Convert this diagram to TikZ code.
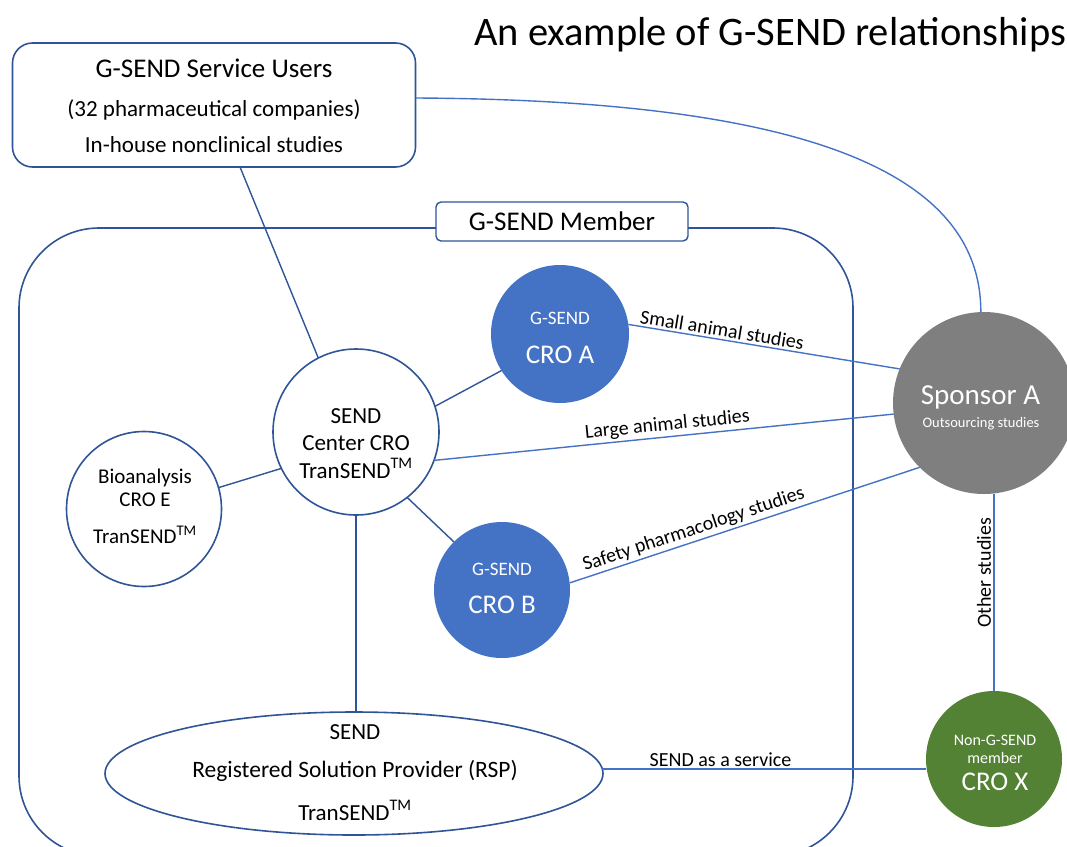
\documentclass[tikz,border=0pt]{standalone}
\usepackage{fontspec}
\setmainfont{Carlito}
\usetikzlibrary{shapes.geometric}
\definecolor{dblue}{HTML}{2F5597}
\definecolor{lblue}{HTML}{4472C4}
\definecolor{fblue}{HTML}{4472C4}
\definecolor{sgray}{HTML}{7F7F7F}
\definecolor{xgreen}{HTML}{548235}
\newcommand{\tmark}{\textsuperscript{TM}}
\begin{document}
\begin{tikzpicture}[x=1pt,y=-1pt,
  every node/.style={inner sep=0pt,outer sep=0pt},
  ln/.style={anchor=base,font=\fontsize{#1}{#1}\selectfont},
  wln/.style={ln=#1,text=white},
  outline/.style={draw=dblue,line width=1.6pt},
  ring/.style={circle,outline,fill=white,minimum size=#1},
  disc/.style={circle,minimum size=#1},
  dlink/.style={draw=dblue,line width=1.4pt},
  llink/.style={draw=lblue,line width=1.4pt},
  elabel/.style={font=\fontsize{20}{20}\selectfont,inner sep=3pt}]
\useasboundingbox (0,0) rectangle (1067,846);
\clip (0,0) rectangle (1067,846);

% title
\node[ln=40.5,anchor=base east] (title) at (1066,45) {An example of G-SEND relationships};

% container
\draw[outline,rounded corners=80] (19,228) rectangle (853,856);

% service users
\node[outline,rounded corners=20,fill=white,minimum width=403,minimum height=124] (su) at (214,105) {};
\node[ln=27] (su1) at (214,77) {G-SEND Service Users};
\node[ln=23] (su2) at (214,116) {(32 pharmaceutical companies)};
\node[ln=23] (su3) at (214,152) {In-house nonclinical studies};

% member label
\node[draw=dblue,line width=1.4pt,rounded corners=5,fill=white,minimum width=252,minimum height=39] (mem) at (562,221.5) {};
\node[ln=27] (memt) at (562,230) {G-SEND Member};

% center CRO
\node[ring=166] (cen) at (356,432) {};
\node[ln=23] (cen1) at (356,423) {SEND};
\node[ln=23] (cen2) at (356,450) {Center CRO};
\node[ln=23] (cen3) at (356,478) {TranSEND\tmark};

% bioanalysis
\node[ring=155] (bio) at (144,509) {};
\node[ln=21] (bio1) at (145,483) {Bioanalysis};
\node[ln=21] (bio2) at (145,506) {CRO E};
\node[ln=21] (bio3) at (145,543) {TranSEND\tmark};

% CRO A
\node[disc=138,fill=fblue] (croa) at (560,334) {};
\node[wln=19] (croa1) at (560,324) {G-SEND};
\node[wln=27] (croa2) at (560,363) {CRO A};

% CRO B
\node[disc=136,fill=fblue] (crob) at (502,590) {};
\node[wln=19] (crob1) at (502,575) {G-SEND};
\node[wln=27] (crob2) at (502,613) {CRO B};

% Sponsor A
\node[disc=182,fill=sgray] (spon) at (984,403) {};
\node[wln=29] (spon1) at (980.5,404) {Sponsor A};
\node[wln=14.5] (spon2) at (981,427) {Outsourcing studies};

% CRO X
\node[disc=136,fill=xgreen] (crox) at (994,759) {};
\node[wln=16] (crox1) at (995,745) {Non-G-SEND};
\node[wln=16] (crox2) at (995,763) {member};
\node[wln=27] (crox3) at (995,790) {CRO X};

% RSP
\node[ellipse,outline,fill=white,minimum width=498,minimum height=123] (rsp) at (354,773.5) {};
\node[ln=23] (rsp1) at (355,739) {SEND};
\node[ln=23.5] (rsp2) at (355,777) {Registered Solution Provider (RSP)};
\node[ln=23] (rsp3) at (355,820) {TranSEND\tmark};

% dark links
\draw[dlink] ([xshift=26pt]su.south) -- (cen.117);
\draw[dlink] (cen.18) -- (croa.212);
\draw[dlink] (cen.206) -- (bio.16);
\draw[dlink] (cen.308) -- (crob.135);
\draw[dlink] (cen.south) -- (rsp.north -| cen.south);

% light links
\draw[llink] ([yshift=7pt]su.east) .. controls (800,100) and (981,170) .. (spon.92);
\draw[llink] (croa.8.5) -- node[elabel,pos=0.34,above,sloped] (lsmall) {Small animal studies} (spon.158);
\draw[llink] (cen.-20) -- node[elabel,pos=0.51,above,sloped] (llarge) {Large animal studies} (spon.187);
\draw[llink] (crob.6) -- node[elabel,pos=0.365,above,sloped] (lsafety) {Safety pharmacology studies} (spon.225);
\draw[llink] (crox.north |- spon.south) -- node[elabel,pos=0.4,rotate=90,anchor=south] (lother) {Other studies} (crox.north);
\draw[llink] (rsp.1) -- node[elabel,pos=0.365,above] (lservice) {SEND as a service} (rsp.1 -| crox.west);
\end{tikzpicture}
\end{document}
